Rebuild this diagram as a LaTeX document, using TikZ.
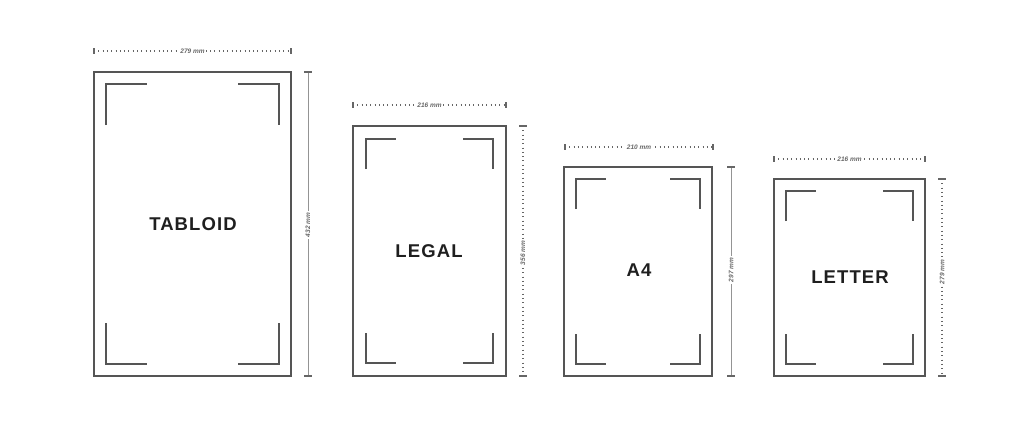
\documentclass[tikz,border=0pt]{standalone}
\usepackage{fontspec}
\setmainfont{Liberation Sans}
\newfontfamily\titlefont[LetterSpace=6]{Liberation Sans}
\usetikzlibrary{arrows.meta}
\definecolor{ink}{HTML}{555555}
\definecolor{dimc}{HTML}{666666}
\tikzset{
  sheet/.style={draw=ink, line width=1.2pt},
  crop/.style={draw=ink, line width=1.4pt},
  dimdot/.style={draw=dimc, line width=2.2pt, dash pattern=on 0.7pt off 3.6pt},
  dimend/.style={draw=dimc, line width=1.4pt},
  dimlabel/.style={fill=white, inner sep=1.5pt, font=\fontsize{6.5}{6.5}\selectfont\itshape\bfseries, text=dimc},
  papertitle/.style={font=\titlefont\fontsize{18.5}{18.5}\selectfont\bfseries, text=black!88}
}
% #1 x1, #2 y1, #3 x2, #4 y2, #5 inset, #6 length
\newcommand{\cropmarks}[6]{%
  \draw[crop] ({#1+#5},{#2+#5+#6}) -- ({#1+#5},{#2+#5}) -- ({#1+#5+#6},{#2+#5});
  \draw[crop] ({#3-#5-#6},{#2+#5}) -- ({#3-#5},{#2+#5}) -- ({#3-#5},{#2+#5+#6});
  \draw[crop] ({#1+#5},{#4-#5-#6}) -- ({#1+#5},{#4-#5}) -- ({#1+#5+#6},{#4-#5});
  \draw[crop] ({#3-#5-#6},{#4-#5}) -- ({#3-#5},{#4-#5}) -- ({#3-#5},{#4-#5-#6});
}
% horizontal dotted dimension: #1 x1, #2 x2, #3 y
\newcommand{\hdim}[4]{%
  \draw[dimdot] (#1,#3) -- (#2,#3);
  \draw[dimend] (#1,{#3-3}) -- (#1,{#3+3});
  \draw[dimend] (#2,{#3-3}) -- (#2,{#3+3});
  \node[dimlabel] at ({(#1+#2)/2},#3) {#4};
}
\newcommand{\vdimdot}[5]{%
  \draw[dimdot, dash pattern=on 0.7pt off 3.6pt, line width=2pt] (#1,#2) -- (#1,#3);
  \draw[dimend] ({#1-4},#2) -- ({#1+4},#2);
  \draw[dimend] ({#1-4},#3) -- ({#1+4},#3);
  \node[dimlabel, rotate=90] at (#1,#4) {#5};
}
\newcommand{\vdimsolid}[5]{%
  \draw[draw=dimc!70, line width=0.7pt] (#1,#2) -- (#1,#3);
  \draw[dimend] ({#1-4},#2) -- ({#1+4},#2);
  \draw[dimend] ({#1-4},#3) -- ({#1+4},#3);
  \node[dimlabel, rotate=90] at (#1,#4) {#5};
}
\begin{document}
\begin{tikzpicture}[x=1pt,y=-1pt]
\fill[white] (0,0) rectangle (1024,426);
\useasboundingbox (0,0) rectangle (1024,426);

% TABLOID
\draw[sheet] (94,72) rectangle (291,376);
\cropmarks{94}{72}{291}{376}{12}{41}
\node[papertitle] (tabloid) at (193,224) {TABLOID};
\hdim{94}{291}{51}{279 mm}
\vdimsolid{308}{72}{376}{225}{432 mm}

% LEGAL
\draw[sheet] (353,126) rectangle (506,376);
\cropmarks{353}{126}{506}{376}{13}{30}
\node[papertitle] (legal) at (429,251) {LEGAL};
\hdim{353}{506}{105}{216 mm}
\vdimdot{523}{126}{376}{253}{356 mm}

% A4
\draw[sheet] (564,167) rectangle (712,376);
\cropmarks{564}{167}{712}{376}{12}{30}
\node[papertitle] (a4) at (639,270) {A4};
\hdim{565}{713}{147}{210 mm}
\vdimsolid{731}{167}{376}{270}{297 mm}

% LETTER
\draw[sheet] (774,179) rectangle (925,376);
\cropmarks{774}{179}{925}{376}{12}{30}
\node[papertitle] (letter) at (850,277) {LETTER};
\hdim{774}{925}{159}{216 mm}
\vdimdot{942}{179}{376}{272}{279 mm}
\end{tikzpicture}
\end{document}
